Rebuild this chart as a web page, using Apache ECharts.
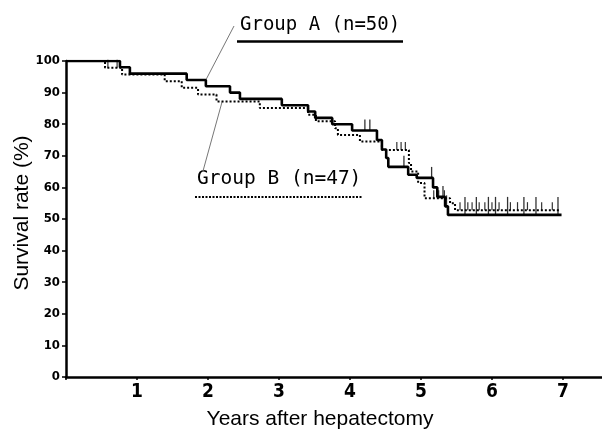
<!DOCTYPE html>
<html><head><meta charset="utf-8">
<script src="https://cdn.jsdelivr.net/npm/echarts@6/dist/echarts.min.js"></script>
<style>html,body{margin:0;padding:0;background:#fff}#c{width:602px;height:430px}</style>
</head><body><div id="c"></div>
<script>
// Kaplan-Meier step points (years, survival %)
const groupATime = [0, 0.76, 0.90, 1.70, 1.97, 2.31, 2.45, 3.04, 3.41, 3.51, 3.75, 4.03, 4.38, 4.45, 4.51, 4.54, 4.82, 4.94, 5.17, 5.23, 5.34, 5.38, 6.98];
const groupASurv = [100, 98, 96, 94, 92, 90, 88, 86, 84, 82, 80, 78, 75, 72, 69.3, 66.5, 64, 63, 60, 57, 54, 51.3, 51.3];
const groupBTime = [0, 0.55, 0.79, 1.39, 1.63, 1.86, 2.12, 2.73, 3.41, 3.52, 3.79, 3.83, 4.14, 4.45, 4.83, 4.86, 4.96, 5.05, 5.41, 5.48, 6.95];
const groupBSurv = [100, 97.9, 95.7, 93.6, 91.5, 89.4, 87.2, 85.1, 83.0, 80.9, 78.7, 76.6, 74.5, 71.8, 67.7, 65.0, 61.4, 56.6, 55.0, 52.8, 52.8];
// censored observations
const groupACensorTime = [4.21, 4.28, 4.76, 5.15, 5.31, 5.36, 5.62, 5.78, 5.95, 6.05, 6.22, 6.45, 6.62, 6.93];
const groupACensorSurv = [78, 78, 66.5, 63, 57, 54, 51.3, 51.3, 51.3, 51.3, 51.3, 51.3, 51.3, 51.3];
const groupBCensorTime = [0.59, 0.72, 4.66, 4.72, 4.78, 5.18, 5.25, 5.33, 5.55, 5.66, 5.72, 5.82, 5.9, 6.0, 6.1, 6.26, 6.36, 6.5, 6.7, 6.85];
const groupBCensorSurv = [97.9, 97.9, 71.8, 71.8, 71.8, 56.6, 56.6, 56.6, 52.8, 52.8, 52.8, 52.8, 52.8, 52.8, 52.8, 52.8, 52.8, 52.8, 52.8, 52.8];
const xTickLabels = ['1', '2', '3', '4', '5', '6', '7'];
const labelA = 'Group A (n=50)';
const labelB = 'Group B (n=47)';
const anchorA = [1.97, 94];
const anchorB = [2.2, 87.2];

const zip = (a, b) => a.map((v, i) => [v, b[i]]);
const narrow = "'Liberation Sans Narrow','DejaVu Sans Condensed',sans-serif";
const sans = "'Liberation Sans',Arial,sans-serif";
const mono = "'DejaVu Sans Mono','Liberation Mono',monospace";

const chart = echarts.init(document.getElementById('c'), null, {renderer: 'canvas'});
chart.setOption({
  animation: false,
  backgroundColor: '#fff',
  grid: {left: 66, right: 0, top: 61, bottom: 53, containLabel: false},
  xAxis: {
    type: 'value', min: 0, max: 7.55, interval: 1,
    splitLine: {show: false},
    axisLine: {lineStyle: {color: '#000', width: 2.5}},
    axisTick: {show: true, inside: false, length: 3, lineStyle: {color: '#000', width: 1.5}},
    axisLabel: {
      margin: 6, color: '#000', fontSize: 19, fontWeight: 'bold', fontFamily: narrow,
      showMaxLabel: false,
      formatter: v => (Number.isInteger(v) && v >= 1 && v <= xTickLabels.length) ? xTickLabels[v - 1] : ''
    }
  },
  yAxis: {
    type: 'value', min: 0, max: 100, interval: 10,
    splitLine: {show: false},
    axisLine: {show: true, lineStyle: {color: '#000', width: 2.5}},
    axisTick: {show: true, inside: false, length: 4, lineStyle: {color: '#000', width: 1.5}},
    axisLabel: {margin: 6, color: '#000', fontSize: 13, fontWeight: 'bold', fontFamily: narrow}
  },
  series: [
    {type: 'line', step: 'end', data: zip(groupATime, groupASurv), showSymbol: false, z: 3,
     lineStyle: {color: '#000', width: 2.6}},
    {type: 'line', step: 'end', data: zip(groupBTime, groupBSurv), showSymbol: false, z: 2,
     lineStyle: {color: '#000', width: 2, type: [2, 2]}},
    {type: 'scatter', data: zip(groupACensorTime, groupACensorSurv), z: 4,
     symbol: 'rect', symbolSize: (d) => [1.3, d[0] > 5.5 ? 18 : 11],
     symbolOffset: [0, '-50%'], itemStyle: {color: '#000'}},
    {type: 'scatter', data: zip(groupBCensorTime, groupBCensorSurv), z: 4,
     symbol: 'rect', symbolSize: [1.2, 8], symbolOffset: [0, '-50%'], itemStyle: {color: '#000'}}
  ]
});

const pA = chart.convertToPixel({gridIndex: 0}, anchorA);
const pB = chart.convertToPixel({gridIndex: 0}, anchorB);
chart.setOption({
  graphic: [
    {type: 'text', x: 240, y: 25, style: {text: labelA, font: '19px ' + mono, fill: '#000', align: 'left', verticalAlign: 'middle'}},
    {type: 'line', shape: {x1: 237, y1: 41.5, x2: 403, y2: 41.5}, style: {stroke: '#000', lineWidth: 2.5}},
    {type: 'text', x: 197, y: 179, style: {text: labelB, font: '19.5px ' + mono, fill: '#000', align: 'left', verticalAlign: 'middle'}},
    {type: 'line', shape: {x1: 195, y1: 197, x2: 362, y2: 197}, style: {stroke: '#000', lineWidth: 2, lineDash: [2, 1.5]}},
    {type: 'line', shape: {x1: 234, y1: 26, x2: pA[0], y2: pA[1]}, style: {stroke: '#777', lineWidth: 1}},
    {type: 'line', shape: {x1: 203, y1: 171, x2: pB[0], y2: pB[1]}, style: {stroke: '#777', lineWidth: 1}},
    {type: 'text', x: 320, y: 419, style: {text: 'Years after hepatectomy', font: '21px ' + sans, fill: '#000', align: 'center', verticalAlign: 'middle'}},
    {type: 'text', x: 22, y: 213, rotation: Math.PI / 2, style: {text: 'Survival rate (%)', font: '21px ' + sans, fill: '#000', align: 'center', verticalAlign: 'middle'}}
  ]
});
</script>
</body></html>
